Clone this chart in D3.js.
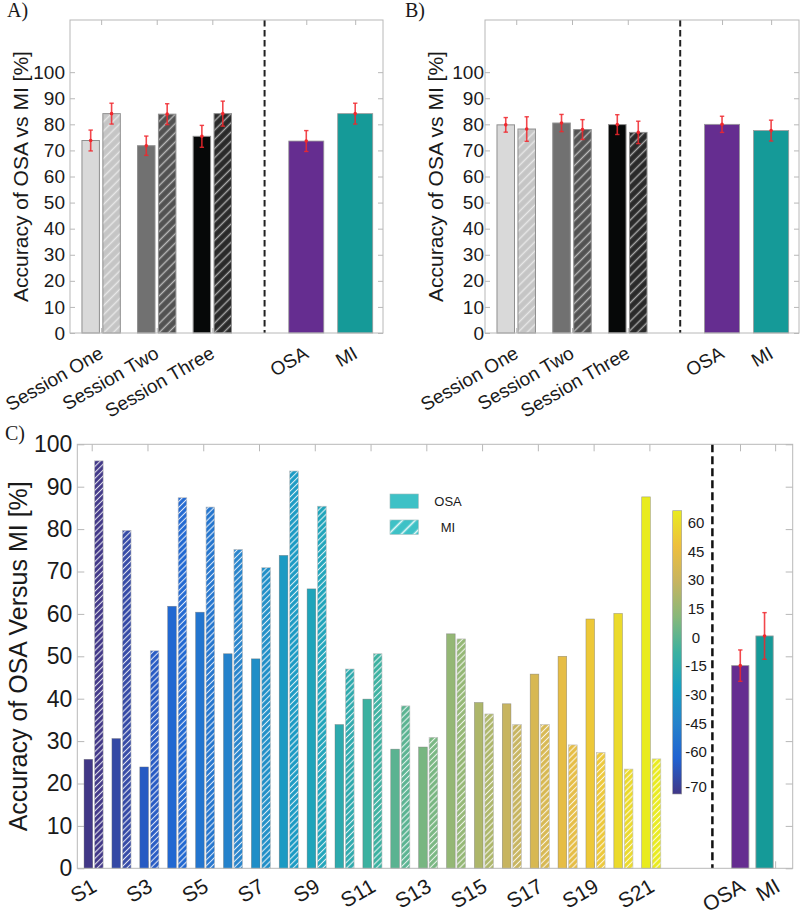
<!DOCTYPE html>
<html><head><meta charset="utf-8">
<script src="https://cdn.jsdelivr.net/npm/d3@7"></script>
<style>
html,body{margin:0;padding:0;background:#fff;}
svg text{font-family:"Liberation Sans",Arial,sans-serif;fill:#1a1a1a;}
</style></head>
<body><svg id="chart" width="800" height="916"></svg>
<script>
// ---------------- DATA ----------------
const sessions = ["Session One", "Session Two", "Session Three"];
const groups = ["OSA", "MI"];
const yTicksAB = [0,10,20,30,40,50,60,70,80,90,100];

// Panel A
const aSessOSA = [73.8, 71.8, 75.4];
const aSessOSAErr = [4.0, 3.7, 4.2];
const aSessMI = [84.1, 83.9, 84.1];
const aSessMIErr = [4.0, 4.0, 4.8];
const aGroup = [73.6, 84.1];
const aGroupErr = [4.0, 4.0];

// Panel B
const bSessOSA = [79.8, 80.5, 79.9];
const bSessOSAErr = [2.8, 3.3, 3.8];
const bSessMI = [78.2, 78.0, 76.9];
const bSessMIErr = [4.7, 3.8, 4.3];
const bGroup = [80.0, 77.6];
const bGroupErr = [3.1, 4.0];

// Panel C
const subjects = d3.range(1, 22).map(i => "S" + i);
const cOSA = [25.7, 30.6, 23.9, 61.8, 60.4, 50.6, 49.4, 73.8, 65.9, 33.9, 39.9,
              28.1, 28.6, 55.3, 39.1, 38.8, 45.8, 50.0, 58.8, 60.1, 87.6];
const cMI  = [96.1, 79.7, 51.3, 87.4, 85.2, 75.2, 70.9, 93.7, 85.4, 47.0, 50.6,
              38.3, 30.9, 54.1, 36.4, 33.9, 33.9, 29.1, 27.3, 23.4, 25.8];
const cGroup = [47.8, 54.8];
const cGroupErr = [3.7, 5.5];
const yTicksC = [0,10,20,30,40,50,60,70,80,90,100];
const cbTicks = [60, 45, 30, 15, 0, -15, -30, -45, -60, -70];
const legendLabels = ["OSA", "MI"];

// ---------------- STYLE ----------------
const parulaStops = ["#352a87","#0f5cdd","#1481d6","#06a4ca","#2eb7a4","#87bf77","#d1bb59","#fec832","#f9fb0e"];
const parula = d3.scaleLinear()
  .domain(parulaStops.map((d,i)=>i/(parulaStops.length-1)))
  .range(parulaStops).interpolate(d3.interpolateRgb);
const mute = c => d3.interpolateRgb(c, "#8a8a8a")(0.14);
const sessColors = ["#d9d9d9", "#717171", "#060808"];
const sessHatchBg = ["#c5c5c5", "#525252", "#2a2a2a"];
const grpColors = ["#652d90", "#159a98"];
const boxColor = "#b8b8b8";
const errColor = "#f0272d";

const svg = d3.select("#chart");
const defs = svg.append("defs");
let patId = 0;
function hatch(bg, spacing, sw, op) {
  const id = "h" + (patId++);
  const p = defs.append("pattern").attr("id", id)
    .attr("patternUnits", "userSpaceOnUse")
    .attr("width", spacing).attr("height", spacing)
    .attr("patternTransform", "rotate(45)");
  p.append("rect").attr("width", spacing).attr("height", spacing).attr("fill", bg);
  p.append("line").attr("x1", spacing/2).attr("x2", spacing/2)
    .attr("y1", 0).attr("y2", spacing)
    .attr("stroke", "#fff").attr("stroke-width", sw).attr("stroke-opacity", op);
  return "url(#" + id + ")";
}

function errBar(g, x, y, v, e, cap) {
  g.append("line").attr("x1", x).attr("x2", x).attr("y1", y(v - e)).attr("y2", y(v + e))
    .attr("stroke", errColor).attr("stroke-width", 1.6).attr("stroke-opacity", 0.85);
  [v - e, v + e].forEach(t => g.append("line")
    .attr("x1", x - cap).attr("x2", x + cap).attr("y1", y(t)).attr("y2", y(t))
    .attr("stroke", errColor).attr("stroke-width", 1.4).attr("stroke-opacity", 0.85));
  g.append("circle").attr("cx", x).attr("cy", y(v)).attr("r", 1.8).attr("fill", errColor);
}

// ---------------- PANELS A & B ----------------
function panelAB(opt) {
  const {left, right, top, bottom, sOSA, sOSAe, sMI, sMIe, grp, grpE, letter, letterX, ylabX, labGap} = opt;
  const x = d3.scaleLinear().domain([0.44, 6.07]).range([left, right]);
  const y = d3.scaleLinear().domain([0, 120]).range([bottom, top]);
  const g = svg.append("g");
  const sessPos = [1, 2, 3], grpPos = [4.69, 5.57], dashPos = 3.94;
  const smallW = x(0.314) - x(0), bigW = x(0.63) - x(0), off = 0.188;

  const ax = g.append("g").attr("transform", `translate(${left},0)`)
    .call(d3.axisLeft(y).tickValues(yTicksAB).tickSizeInner(-5).tickSizeOuter(0).tickPadding(labGap));
  ax.select(".domain").remove();
  ax.selectAll("line").attr("stroke", boxColor);
  ax.selectAll("text").style("font-size", "19px").attr("fill", "#1a1a1a");
  const axR = g.append("g").attr("transform", `translate(${right},0)`)
    .call(d3.axisRight(y).tickValues(yTicksAB).tickSizeInner(-5).tickSizeOuter(0).tickFormat(""));
  axR.select(".domain").remove(); axR.selectAll("line").attr("stroke", boxColor);
  const ticksX = sessPos.concat(grpPos), labs = sessions.concat(groups);
  const axT = g.append("g").attr("transform", `translate(0,${top})`)
    .call(d3.axisTop(x).tickValues(ticksX).tickSizeInner(-5).tickSizeOuter(0).tickFormat(""));
  axT.select(".domain").remove(); axT.selectAll("line").attr("stroke", boxColor);
  const axB = g.append("g").attr("transform", `translate(0,${bottom})`)
    .call(d3.axisBottom(x).tickValues(ticksX).tickSizeInner(-5).tickSizeOuter(0)
      .tickFormat((d, i) => labs[i]));
  axB.select(".domain").remove(); axB.selectAll("line").attr("stroke", boxColor);
  axB.selectAll("text").style("font-size", "19px").attr("text-anchor", "end")
    .attr("x", 3).attr("y", 24).attr("dy", 0).attr("transform", "rotate(-30,3,24)");

  sOSA.forEach((v, i) => {
    g.append("rect").attr("x", x(sessPos[i] - off) - smallW/2).attr("width", smallW)
      .attr("y", y(v)).attr("height", y(0) - y(v))
      .attr("fill", sessColors[i]).attr("stroke", "#8f8f8f").attr("stroke-width", 1);
  });
  sMI.forEach((v, i) => {
    g.append("rect").attr("x", x(sessPos[i] + off) - smallW/2).attr("width", smallW)
      .attr("y", y(v)).attr("height", y(0) - y(v))
      .attr("fill", hatch(sessHatchBg[i], 6.5, 1.4, 0.6)).attr("stroke", "#8f8f8f").attr("stroke-width", 1);
  });
  grp.forEach((v, i) => {
    g.append("rect").attr("x", x(grpPos[i]) - bigW/2).attr("width", bigW)
      .attr("y", y(v)).attr("height", y(0) - y(v))
      .attr("fill", grpColors[i]).attr("stroke", "#9a9a9a").attr("stroke-width", 0.8);
  });
  sOSA.forEach((v, i) => errBar(g, x(sessPos[i] - off), y, v, sOSAe[i], 2.2));
  sMI.forEach((v, i) => errBar(g, x(sessPos[i] + off), y, v, sMIe[i], 2.2));
  grp.forEach((v, i) => errBar(g, x(grpPos[i]), y, v, grpE[i], 2.2));

  g.append("line").attr("x1", x(dashPos)).attr("x2", x(dashPos)).attr("y1", top).attr("y2", bottom)
    .attr("stroke", "#222").attr("stroke-width", 2).attr("stroke-dasharray", "6.5,3.5");
  g.append("rect").attr("x", left).attr("y", top).attr("width", right - left).attr("height", bottom - top)
    .attr("fill", "none").attr("stroke", boxColor).attr("stroke-width", 1);

  g.append("text").attr("transform", `translate(${ylabX},${(top + bottom)/2}) rotate(-90)`)
    .attr("text-anchor", "middle").style("font-size", "21px").text("Accuracy of OSA vs MI [%]");
  g.append("text").attr("x", letterX).attr("y", 17).style("font-family", "'Liberation Serif','Times New Roman',serif")
    .style("font-size", "20px").text(letter);
}

panelAB({left: 70, right: 383, top: 20, bottom: 333, sOSA: aSessOSA, sOSAe: aSessOSAErr,
  sMI: aSessMI, sMIe: aSessMIErr, grp: aGroup, grpE: aGroupErr, letter: "A)", letterX: 7, ylabX: 28, labGap: 5});
panelAB({left: 485, right: 799, top: 20, bottom: 333, sOSA: bSessOSA, sOSAe: bSessOSAErr,
  sMI: bSessMI, sMIe: bSessMIErr, grp: bGroup, grpE: bGroupErr, letter: "B)", letterX: 405, ylabX: 443, labGap: 1});

// ---------------- PANEL C ----------------
(function () {
  const left = 77.3, right = 792.7, top = 444.3, bottom = 868.3;
  const x = d3.scaleLinear().domain([0.483, 26.14]).range([left, right]);
  const y = d3.scaleLinear().domain([0, 100]).range([bottom, top]);
  const g = svg.append("g");
  const w = x(0.31) - x(0), bigW = x(0.62) - x(0);
  const grpBarPos = [24.26, 25.13], grpTickPos = [24.25, 25.51], dashPos = 23.26;
  const subjColor = i => mute(parula(i / (subjects.length - 1)));

  const ax = g.append("g").attr("transform", `translate(${left},0)`)
    .call(d3.axisLeft(y).tickValues(yTicksC).tickSizeInner(-7).tickSizeOuter(0).tickPadding(5));
  ax.select(".domain").remove(); ax.selectAll("line").attr("stroke", boxColor);
  ax.selectAll("text").style("font-size", "23px");
  const axR = g.append("g").attr("transform", `translate(${right},0)`)
    .call(d3.axisRight(y).tickValues(yTicksC).tickSizeInner(-7).tickSizeOuter(0).tickFormat(""));
  axR.select(".domain").remove(); axR.selectAll("line").attr("stroke", boxColor);

  const tickIdx = d3.range(0, subjects.length, 2);
  const ticksX = tickIdx.map(i => i + 1).concat(grpTickPos);
  const labs = tickIdx.map(i => subjects[i]).concat(groups);
  const axT = g.append("g").attr("transform", `translate(0,${top})`)
    .call(d3.axisTop(x).tickValues(ticksX).tickSizeInner(-7).tickSizeOuter(0).tickFormat(""));
  axT.select(".domain").remove(); axT.selectAll("line").attr("stroke", boxColor);
  const axB = g.append("g").attr("transform", `translate(0,${bottom})`)
    .call(d3.axisBottom(x).tickValues(ticksX).tickSizeInner(-7).tickSizeOuter(0).tickFormat((d, i) => labs[i]));
  axB.select(".domain").remove(); axB.selectAll("line").attr("stroke", boxColor);
  axB.selectAll("text").style("font-size", "21px").attr("text-anchor", "end")
    .attr("x", 6).attr("y", 22).attr("dy", 0).attr("transform", "rotate(-30,6,22)");

  cOSA.forEach((v, i) => {
    g.append("rect").attr("x", x(i + 1 - 0.12) - w/2).attr("width", w)
      .attr("y", y(v)).attr("height", y(0) - y(v))
      .attr("fill", subjColor(i)).attr("stroke", "#6d6d6d").attr("stroke-width", 0.6).attr("stroke-opacity", 0.6);
  });
  cMI.forEach((v, i) => {
    g.append("rect").attr("x", x(i + 1 + 0.255) - w/2).attr("width", w)
      .attr("y", y(v)).attr("height", y(0) - y(v))
      .attr("fill", hatch(subjColor(i), 4.2, 1.1, 0.85)).attr("stroke", "#bdbdbd").attr("stroke-width", 0.6);
  });
  cGroup.forEach((v, i) => {
    g.append("rect").attr("x", x(grpBarPos[i]) - bigW/2).attr("width", bigW)
      .attr("y", y(v)).attr("height", y(0) - y(v))
      .attr("fill", grpColors[i]).attr("stroke", "#9a9a9a").attr("stroke-width", 0.8);
  });
  cGroup.forEach((v, i) => errBar(g, x(grpBarPos[i]), y, v, cGroupErr[i], 2.2));

  g.append("line").attr("x1", x(dashPos)).attr("x2", x(dashPos)).attr("y1", top).attr("y2", bottom)
    .attr("stroke", "#111").attr("stroke-width", 2.5).attr("stroke-dasharray", "8,4");
  g.append("rect").attr("x", left).attr("y", top).attr("width", right - left).attr("height", bottom - top)
    .attr("fill", "none").attr("stroke", boxColor).attr("stroke-width", 1);

  g.append("text").attr("transform", `translate(27,${(top + bottom)/2}) rotate(-90)`)
    .attr("text-anchor", "middle").style("font-size", "25px").text("Accuracy of OSA Versus MI [%]");
  g.append("text").attr("x", 5).attr("y", 440).style("font-family", "'Liberation Serif','Times New Roman',serif")
    .style("font-size", "20px").text("C)");

  const legColor = "#3ec1c6";
  const lg = g.append("g");
  legendLabels.forEach((lab, i) => {
    const yy = 494 + i * 26;
    lg.append("rect").attr("x", 390).attr("y", yy).attr("width", 28.3).attr("height", 14.3)
      .attr("fill", i === 0 ? legColor : hatch(legColor, 9, 1.6, 0.95))
      .attr("stroke", "#9bb").attr("stroke-width", 0.6);
    lg.append("text").attr("x", 448).attr("y", yy + 12).attr("text-anchor", "middle")
      .style("font-size", "13px").text(lab);
  });

  const cbX = 672.7, cbW = 9, cbTop = 510.7, cbBot = 794;
  const grad = defs.append("linearGradient").attr("id", "cbGrad")
    .attr("x1", 0).attr("y1", 1).attr("x2", 0).attr("y2", 0);
  parulaStops.forEach((c, i) => grad.append("stop")
    .attr("offset", i / (parulaStops.length - 1)).attr("stop-color", mute(c)));
  g.append("rect").attr("x", cbX).attr("y", cbTop).attr("width", cbW).attr("height", cbBot - cbTop)
    .attr("fill", "url(#cbGrad)").attr("stroke", "#999").attr("stroke-width", 0.6);
  const cbH = cbBot - cbTop;
  const cbScale = d3.scaleLinear().domain([-70, -60, 60])
    .range([cbBot - cbH * 0.0258, cbBot - cbH * 0.1493, cbBot - cbH * 0.9576]);
  cbTicks.forEach(t => g.append("text").attr("x", 696).attr("y", cbScale(t))
    .attr("text-anchor", "middle").attr("dominant-baseline", "central")
    .style("font-size", "15px").text(t));
})();
</script>
</body></html>
